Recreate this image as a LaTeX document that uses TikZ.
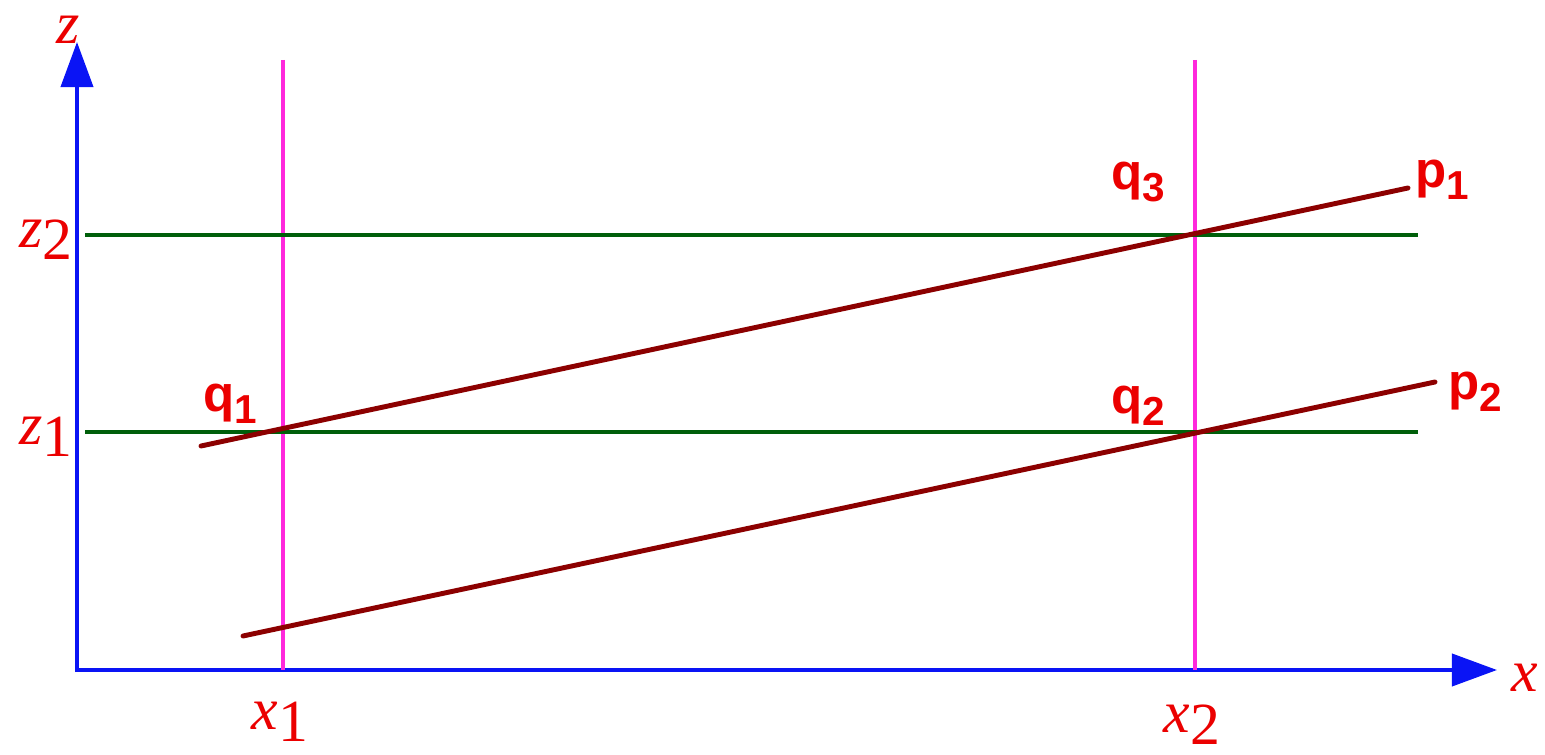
\documentclass[tikz,border=0pt]{standalone}
\usepackage{fontspec}
\setmainfont{Liberation Serif}
\newfontfamily\qfont{Liberation Sans}
\usetikzlibrary{arrows.meta}
\definecolor{axisblue}{RGB}{10,20,245}
\definecolor{gridgreen}{RGB}{0,95,10}
\definecolor{linered}{RGB}{140,0,0}
\definecolor{cutpink}{RGB}{255,40,220}
\definecolor{labred}{RGB}{235,0,0}
\newcommand{\axlab}[2]{\textit{#1}\raisebox{-0.45ex}{#2}}
\newcommand{\ptlab}[2]{\textbf{#1}\raisebox{-0.45ex}{\fontsize{11.5}{12}\selectfont\textbf{#2}}}
\begin{document}
\begin{tikzpicture}[x=0.01cm, y=-0.01cm,
    axis/.style={draw=axisblue, line width=1.1pt, -{Triangle[length=0.45cm, width=0.32cm]}},
    level/.style={draw=gridgreen, line width=1.4pt},
    cut/.style={draw=cutpink, line width=0.9pt},
    plane/.style={draw=linered, line width=1.4pt, line cap=round},
    mlab/.style={text=labred, inner sep=0pt, font=\fontsize{17}{19}\selectfont},
    plab/.style={text=labred, inner sep=0pt, font=\qfont\fontsize{14.5}{16}\selectfont}]
  \useasboundingbox (0,0) rectangle (1545,755);
  % axes
  \coordinate (o) at (77,670);
  \coordinate (ztip) at (77,42);
  \coordinate (xtip) at (1497,670);
  \draw[axis] (77,672) -- (ztip);
  \draw[axis] (o) -- (xtip);
  % x = const
  \coordinate (a1) at (283,60);
  \coordinate (b1) at (283,670);
  \coordinate (a2) at (1195,60);
  \coordinate (b2) at (1195,670);
  \draw[cut] (a1) -- (b1);
  \draw[cut] (a2) -- (b2);
  % z = const
  \coordinate (l2) at (85,235);
  \coordinate (r2) at (1418,235);
  \coordinate (l1) at (85,432);
  \coordinate (r1) at (1418,432);
  \draw[level] (l2) -- (r2);
  \draw[level] (l1) -- (r1);
  % planes
  \coordinate (s1) at (201,446);
  \coordinate (e1) at (1408,188);
  \coordinate (s2) at (243,636);
  \coordinate (e2) at (1435,382);
  \draw[plane] (s1) -- (e1);
  \draw[plane] (s2) -- (e2);
  % labels
  \node[mlab] (z) at (68,30) {\textit{z}};
  \node[mlab] (x) at (1525,678) {\textit{x}};
  \node[mlab] (z2) at (46,240) {\axlab{z}{2}};
  \node[mlab] (z1) at (46,437) {\axlab{z}{1}};
  \node[mlab] (x1) at (280,722) {\axlab{x}{1}};
  \node[mlab] (x2) at (1192,725) {\axlab{x}{2}};
  \node[plab] (q1) at (230,404) {\ptlab{q}{1}};
  \node[plab] (q2) at (1138,406) {\ptlab{q}{2}};
  \node[plab] (q3) at (1138,182) {\ptlab{q}{3}};
  \node[plab] (p1) at (1442,180) {\ptlab{p}{1}};
  \node[plab] (p2) at (1475,392) {\ptlab{p}{2}};
\end{tikzpicture}
\end{document}
